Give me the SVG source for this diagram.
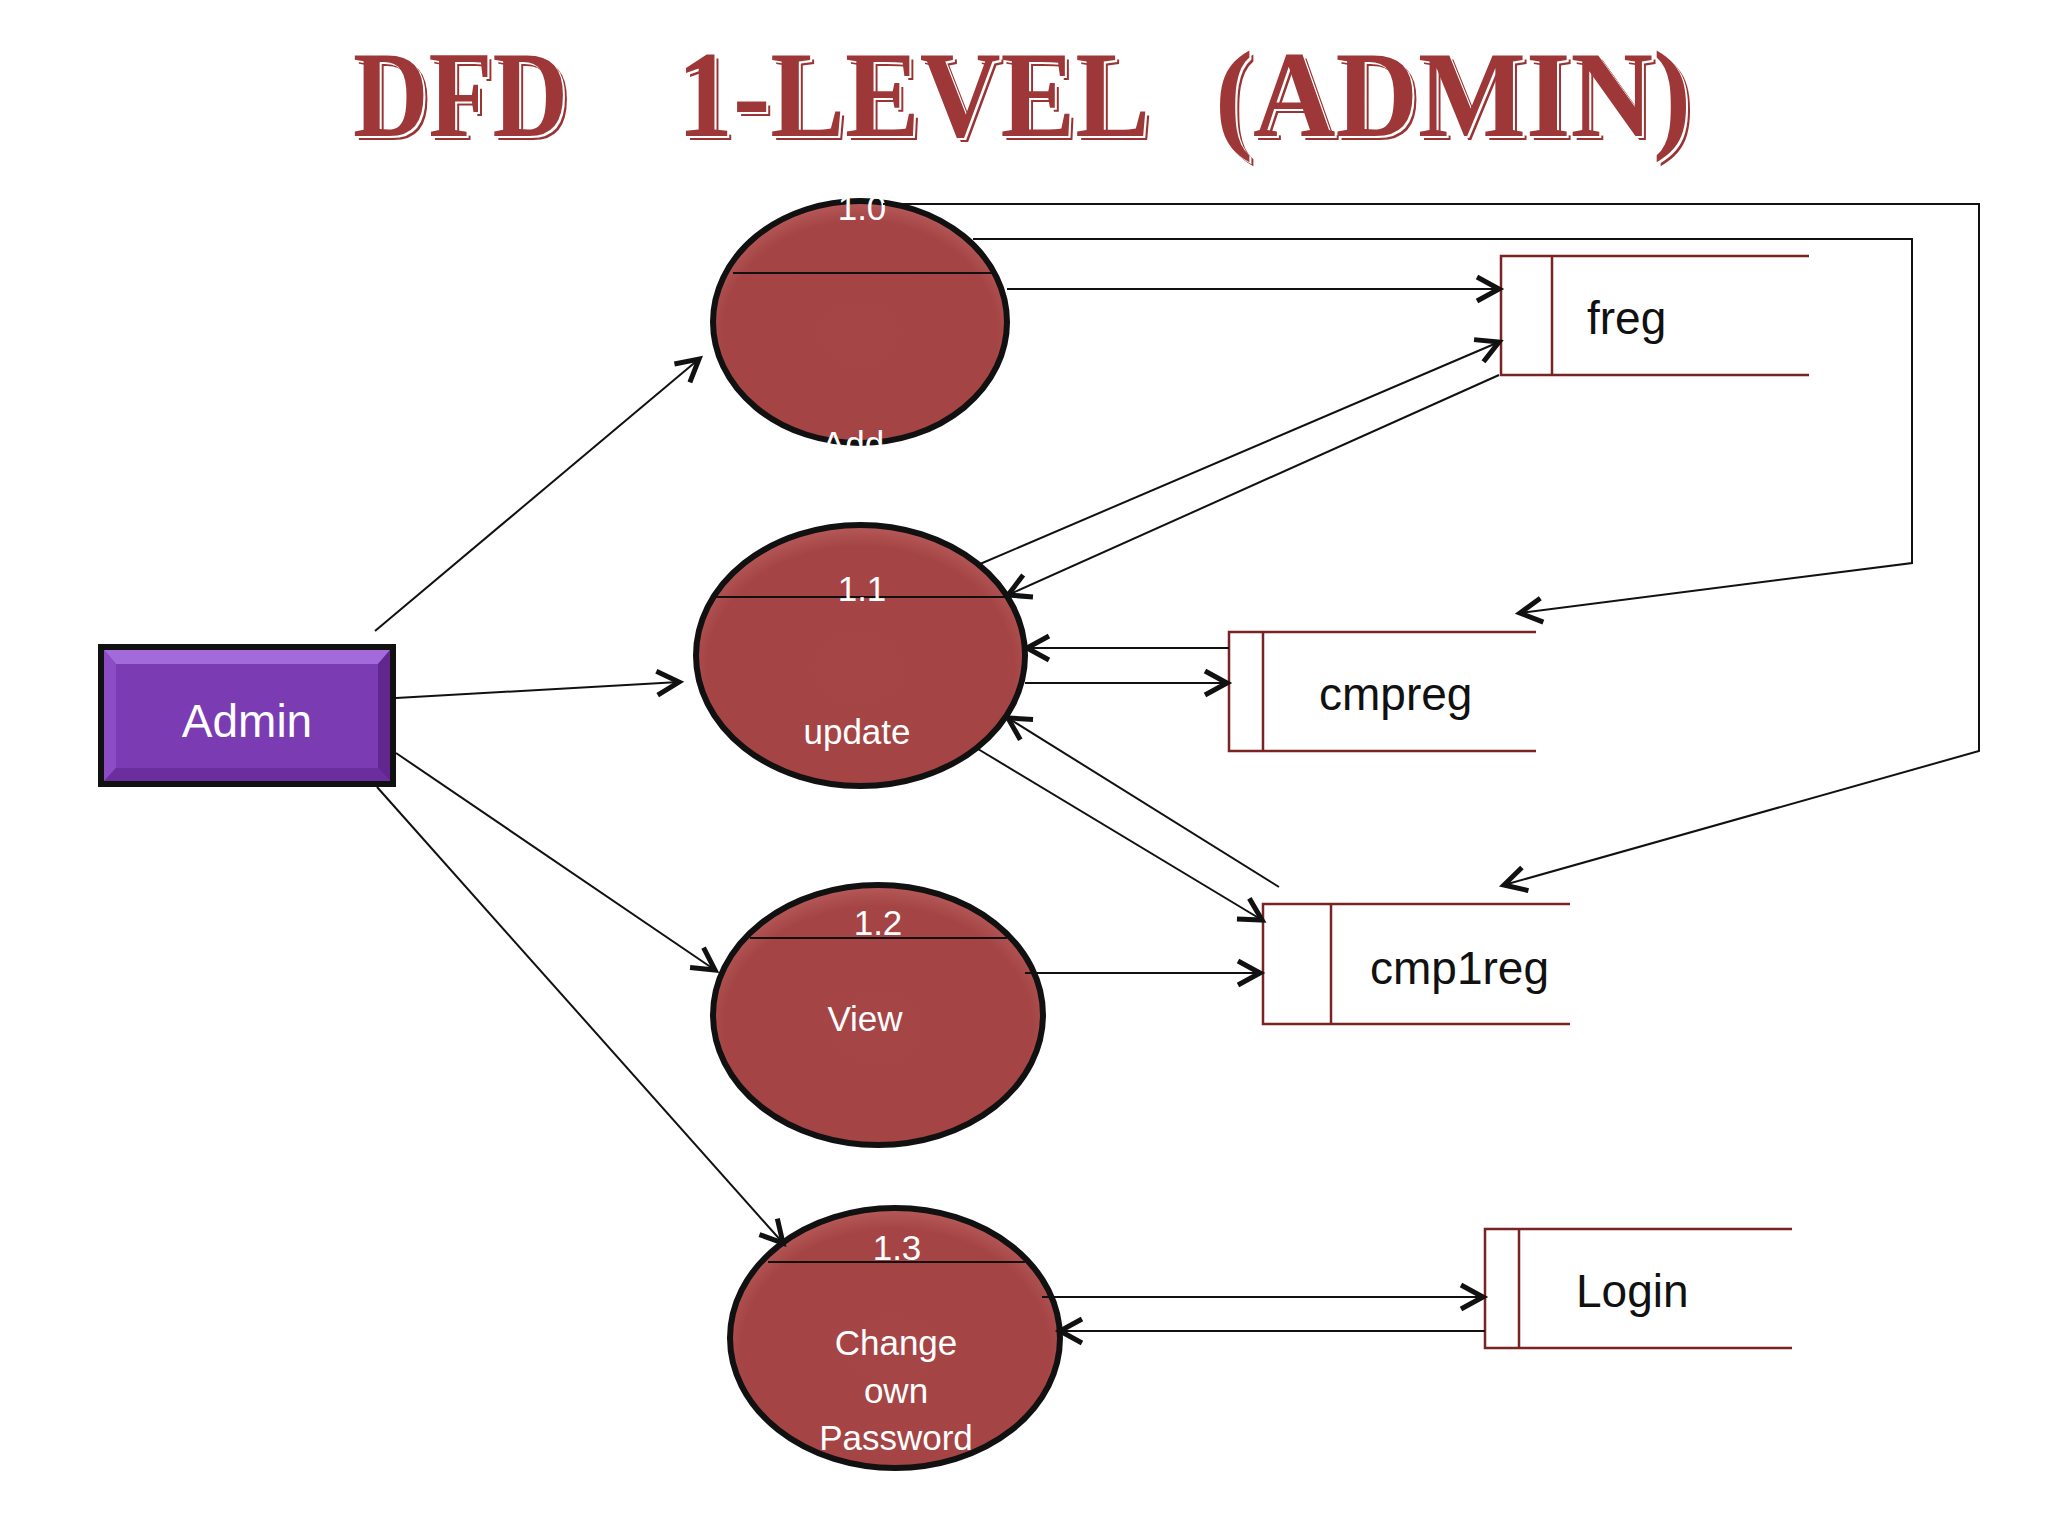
<svg xmlns="http://www.w3.org/2000/svg" width="2048" height="1536" viewBox="0 0 2048 1536">
  <style>
    .proc { fill: #A54545; stroke: #111; stroke-width: 6; }
    .divider { stroke: #111; stroke-width: 2; fill: none; }
    .plabel { font-family: "Liberation Sans", Arial, sans-serif; font-size: 35px; fill: #ffffff; text-anchor: middle; }
    .store { fill: none; stroke: #7B2323; stroke-width: 2.5; }
    .slabel { font-family: "Liberation Sans", Arial, sans-serif; font-size: 46px; fill: #111; }
    .flow { fill: none; stroke: #111; stroke-width: 2; marker-end: url(#arrow); }
    .title { font-family: "Liberation Serif", "Times New Roman", serif; font-weight: bold; font-size: 122px; }
  </style>
  <defs>
    <marker id="arrow" markerUnits="userSpaceOnUse" markerWidth="40" markerHeight="40" viewBox="-28 -20 40 40" refX="0" refY="0" orient="auto" overflow="visible">
      <path d="M-22,-12 L0,0 L-22,12" fill="none" stroke="#111" stroke-width="5"/>
    </marker>
    <radialGradient id="ballFill" cx="50%" cy="55%" r="55%">
      <stop offset="0" stop-color="#A64545"/>
      <stop offset="0.85" stop-color="#A44444"/>
      <stop offset="1" stop-color="#B85A5A"/>
    </radialGradient>
  </defs>

  <rect width="2048" height="1536" fill="#ffffff"/>

  <g id="title">
    <g fill="#9A3434">
      <text class="title" x="357" y="140" textLength="215" lengthAdjust="spacingAndGlyphs">DFD</text>
      <text class="title" x="681" y="140" textLength="473" lengthAdjust="spacingAndGlyphs">1-LEVEL</text>
      <text class="title" x="1219" y="140" textLength="476" lengthAdjust="spacingAndGlyphs">(ADMIN)</text>
    </g>
    <g fill="#ffffff">
      <text class="title" x="355" y="138" textLength="215" lengthAdjust="spacingAndGlyphs">DFD</text>
      <text class="title" x="679" y="138" textLength="473" lengthAdjust="spacingAndGlyphs">1-LEVEL</text>
      <text class="title" x="1217" y="138" textLength="476" lengthAdjust="spacingAndGlyphs">(ADMIN)</text>
    </g>
    <g fill="#9E3838">
      <text class="title" x="353" y="136" textLength="215" lengthAdjust="spacingAndGlyphs">DFD</text>
      <text class="title" x="677" y="136" textLength="473" lengthAdjust="spacingAndGlyphs">1-LEVEL</text>
      <text class="title" x="1215" y="136" textLength="476" lengthAdjust="spacingAndGlyphs">(ADMIN)</text>
    </g>
  </g>

  <g id="admin">
    <rect x="101" y="647" width="292" height="137" fill="#7B3BB2" stroke="#111" stroke-width="6"/>
    <polygon points="104,650 390,650 378,664 116,664" fill="#A26ADB"/>
    <polygon points="104,650 116,664 116,768 104,781" fill="#8C4CC6"/>
    <polygon points="390,650 390,781 378,768 378,664" fill="#62278F"/>
    <polygon points="104,781 116,768 378,768 390,781" fill="#6C2D9E"/>
    <text x="247" y="737" font-family="'Liberation Sans', Arial, sans-serif" font-size="46" fill="#ffffff" text-anchor="middle">Admin</text>
  </g>

  <g id="p1_0">
    <ellipse class="proc" cx="860" cy="322" rx="147" ry="121" style="fill:url(#ballFill)"/>
    <line class="divider" x1="733" y1="273" x2="992" y2="273"/>
    <text class="plabel" x="862" y="220">1.0</text>
    <text class="plabel" x="853" y="456">Add</text>
  </g>

  <g id="p1_1">
    <ellipse class="proc" cx="860.5" cy="655.5" rx="164.5" ry="130.5" style="fill:url(#ballFill)"/>
    <line class="divider" x1="716" y1="597" x2="1008" y2="597"/>
    <text class="plabel" x="862" y="601">1.1</text>
    <text class="plabel" x="857" y="744">update</text>
  </g>

  <g id="p1_2">
    <ellipse class="proc" cx="878" cy="1015" rx="165" ry="130" style="fill:url(#ballFill)"/>
    <line class="divider" x1="750" y1="938" x2="1007" y2="938"/>
    <text class="plabel" x="878" y="935">1.2</text>
    <text class="plabel" x="865" y="1031">View</text>
  </g>

  <g id="p1_3">
    <ellipse class="proc" cx="895" cy="1338" rx="165" ry="130" style="fill:url(#ballFill)"/>
    <line class="divider" x1="768" y1="1262" x2="1025" y2="1262"/>
    <text class="plabel" x="897" y="1260">1.3</text>
    <text class="plabel" x="896" y="1355">Change</text>
    <text class="plabel" x="896" y="1403">own</text>
    <text class="plabel" x="896" y="1450">Password</text>
  </g>

  <g id="freg">
    <path class="store" d="M1809,256 H1501 V375 H1809"/>
    <line class="store" x1="1552" y1="256" x2="1552" y2="375"/>
    <text class="slabel" x="1587" y="334">freg</text>
  </g>

  <g id="cmpreg">
    <path class="store" d="M1536,632 H1229 V751 H1536"/>
    <line class="store" x1="1263" y1="632" x2="1263" y2="751"/>
    <text class="slabel" x="1319" y="710">cmpreg</text>
  </g>

  <g id="cmp1reg">
    <path class="store" d="M1570,904 H1263 V1024 H1570"/>
    <line class="store" x1="1331" y1="904" x2="1331" y2="1024"/>
    <text class="slabel" x="1370" y="984">cmp1reg</text>
  </g>

  <g id="login">
    <path class="store" d="M1792,1229 H1485 V1348 H1792"/>
    <line class="store" x1="1519" y1="1229" x2="1519" y2="1348"/>
    <text class="slabel" x="1576" y="1307">Login</text>
  </g>

  <g id="connectors">
    <line class="flow" x1="375" y1="631" x2="699" y2="359"/>
    <line class="flow" x1="396" y1="698" x2="679" y2="682"/>
    <line class="flow" x1="396" y1="753" x2="715" y2="970"/>
    <line class="flow" x1="377" y1="787" x2="783" y2="1243"/>
    <line class="flow" x1="1007" y1="289" x2="1499" y2="289"/>
    <polyline class="flow" points="883,204 1979,204 1979,751 1504,885"/>
    <polyline class="flow" points="973,239 1912,239 1912,563 1520,613"/>
    <line class="flow" x1="980" y1="564" x2="1499" y2="342"/>
    <line class="flow" x1="1499" y1="375" x2="1008" y2="595"/>
    <line class="flow" x1="1229" y1="648" x2="1027" y2="648"/>
    <line class="flow" x1="1025" y1="683" x2="1227" y2="683"/>
    <line class="flow" x1="1279" y1="887" x2="1008" y2="718"/>
    <line class="flow" x1="978" y1="749" x2="1262" y2="920"/>
    <line class="flow" x1="1025" y1="973" x2="1260" y2="973"/>
    <line class="flow" x1="1042" y1="1297" x2="1483" y2="1297"/>
    <line class="flow" x1="1485" y1="1331" x2="1060" y2="1331"/>
  </g>
</svg>
